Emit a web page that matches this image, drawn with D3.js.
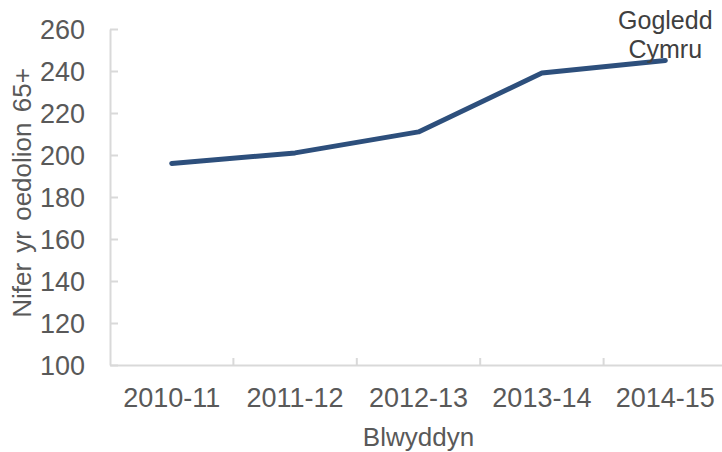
<!DOCTYPE html>
<html>
<head>
<meta charset="utf-8">
<script src="https://cdn.jsdelivr.net/npm/d3@7"></script>
<style>
  body { margin: 0; background: #fff; }
  svg text { font-family: "Liberation Sans", Arial, sans-serif; }
  .axis path, .axis line { stroke: #d9d9d9; stroke-width: 2; }
  .axis text { fill: #595959; font-size: 27px; }
</style>
</head>
<body>
<div id="chart"></div>
<script>
var years = ["2010-11", "2011-12", "2012-13", "2013-14", "2014-15"];
var values = [196, 201, 211, 239, 245];
var yTicks = [100, 120, 140, 160, 180, 200, 220, 240, 260];
var seriesName = ["Gogledd", "Cymru"];

var margin = {top: 29, right: -5, bottom: 87, left: 110},
  width = 722 - margin.left - margin.right,
  height = 452 - margin.top - margin.bottom;

var svg = d3.select("#chart").append("svg")
    .attr("width", 722)
    .attr("height", 452)
  .append("g")
    .attr("transform", "translate(" + margin.left + "," + margin.top + ")");

var x = d3.scaleBand().domain(years).range([0, width]);
var y = d3.scaleLinear().domain([100, 260]).range([height, 0]);

// y axis, ticks point into the plot
svg.append("g")
  .attr("class", "axis")
  .call(d3.axisLeft(y).tickValues(yTicks).tickSizeInner(-8).tickSizeOuter(0).tickPadding(25))
  .call(function(g) { g.selectAll("text").attr("dy", "0.34em"); });

// x axis with ticks between categories
var xAxis = svg.append("g")
  .attr("class", "axis")
  .attr("transform", "translate(0," + height + ")")
  .call(d3.axisBottom(x).tickSize(0));
xAxis.selectAll("text").attr("y", 42).attr("dy", 0);

xAxis.selectAll(".sep")
  .data(years.slice(1))
  .enter().append("line")
  .attr("class", "sep")
  .attr("x1", function(d) { return x(d); })
  .attr("x2", function(d) { return x(d); })
  .attr("y1", 0)
  .attr("y2", -7);

var line = d3.line()
  .x(function(d, i) { return x(years[i]) + x.bandwidth() / 2; })
  .y(function(d) { return y(d); });

svg.append("path")
  .datum(values)
  .attr("fill", "none")
  .attr("stroke", "#2d4f7c")
  .attr("stroke-width", 5)
  .attr("stroke-linejoin", "round")
  .attr("stroke-linecap", "round")
  .attr("d", line);

// series label at the last point
var lastX = x(years[years.length - 1]) + x.bandwidth() / 2;
svg.append("text")
  .attr("text-anchor", "middle")
  .attr("fill", "#404040")
  .style("font-size", "25px")
  .selectAll("tspan")
  .data(seriesName)
  .enter().append("tspan")
  .attr("x", lastX)
  .attr("y", function(d, i) { return 0 + i * 29; })
  .text(function(d) { return d; });

// axis titles
svg.append("text")
  .attr("text-anchor", "middle")
  .attr("fill", "#595959")
  .style("font-size", "26px")
  .attr("x", width / 2)
  .attr("y", height + 81)
  .text("Blwyddyn");

svg.append("text")
  .attr("text-anchor", "middle")
  .attr("fill", "#595959")
  .style("font-size", "26px")
  .style("word-spacing", "3px")
  .attr("transform", "translate(-79," + (height / 2 - 4) + ") rotate(-90)")
  .text("Nifer yr oedolion 65+");
</script>
</body>
</html>
